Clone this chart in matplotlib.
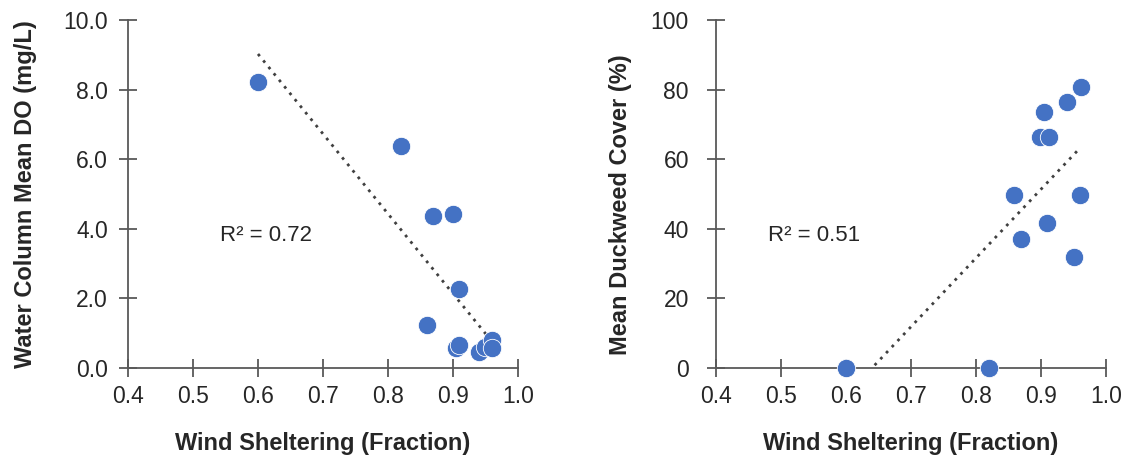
import numpy as np
import matplotlib.pyplot as plt

plt.rcParams['font.family'] = ['Liberation Sans', 'DejaVu Sans']

# wind sheltering fraction for each site
shelter = [0.60, 0.82, 0.86, 0.87, 0.90, 0.905, 0.91, 0.91, 0.94, 0.95, 0.96, 0.96]
# water column mean DO (mg/L), same order
do_mean = [8.22, 6.38, 1.24, 4.37, 4.43, 0.57, 2.27, 0.66, 0.46, 0.60, 0.80, 0.57]

shelter_dw = [0.60, 0.82, 0.858, 0.869, 0.898, 0.905, 0.912, 0.909, 0.94, 0.951, 0.961, 0.96]
# mean duckweed cover (%)
duckweed = [0, 0, 49.7, 37.0, 66.4, 73.6, 66.4, 41.7, 76.4, 31.9, 80.7, 49.7]

r2_labels = ['R² = 0.72', 'R² = 0.51']

blue = '#4472C4'
grey = '#595959'
txt = '#262626'

fig = plt.figure(figsize=(11.26, 4.59), dpi=100)
ax1 = fig.add_axes([128 / 1126, 91 / 459, 390 / 1126, 348 / 459])
ax2 = fig.add_axes([716 / 1126, 91 / 459, 390 / 1126, 348 / 459])


def style_axis(ax, ylim, yticks, yfmt, ylabel, ypad, lx, ly):
    ax.set_xlim(0.4, 1.0)
    ax.set_ylim(*ylim)
    ax.set_xticks(np.arange(0.4, 1.01, 0.1))
    ax.set_xticklabels(['%.1f' % v for v in np.arange(0.4, 1.01, 0.1)])
    ax.set_yticks(yticks)
    ax.set_yticklabels([yfmt % v for v in yticks])
    for s in ['top', 'right']:
        ax.spines[s].set_visible(False)
    for s in ['left', 'bottom']:
        ax.spines[s].set_color(grey)
        ax.spines[s].set_linewidth(1.3)
    ax.tick_params(axis='both', direction='inout', length=13, width=1.3, color=grey,
                   labelsize=16.5, labelcolor=txt)
    ax.tick_params(axis='x', pad=6)
    ax.tick_params(axis='y', pad=ypad)
    ax.set_xlabel('Wind Sheltering (Fraction)', fontsize=17, fontweight='bold',
                  labelpad=17, color=txt)
    ax.set_ylabel(ylabel, fontsize=17, fontweight='bold', color=txt, va='center')
    ax.yaxis.set_label_coords(lx, ly)


def draw(ax, x, y, label, tx):
    x = np.array(x)
    y = np.array(y)
    k, b = np.polyfit(x, y, 1)
    xs = np.linspace(x.min(), x.max(), 50)
    ax.plot(xs, k * xs + b, linestyle=(0, (1, 2)), color='#404040', lw=2, zorder=2)
    ax.scatter(x, y, s=175, color=blue, edgecolors='white', linewidths=0.6,
               zorder=3, clip_on=False)
    ax.text(tx, 0.382, label, transform=ax.transAxes, fontsize=16, va='center', color=txt)


draw(ax1, shelter, do_mean, r2_labels[0], 0.236)
style_axis(ax1, (0, 10), np.arange(0, 10.1, 2), '%.1f', 'Water Column Mean DO (mg/L)',
           8, -0.262, 0.5)

draw(ax2, shelter_dw, duckweed, r2_labels[1], 0.133)
style_axis(ax2, (0, 100), np.arange(0, 101, 20), '%d', 'Mean Duckweed Cover (%)',
           13, -0.244, 0.47)

fig.savefig('out.png', dpi=100)
